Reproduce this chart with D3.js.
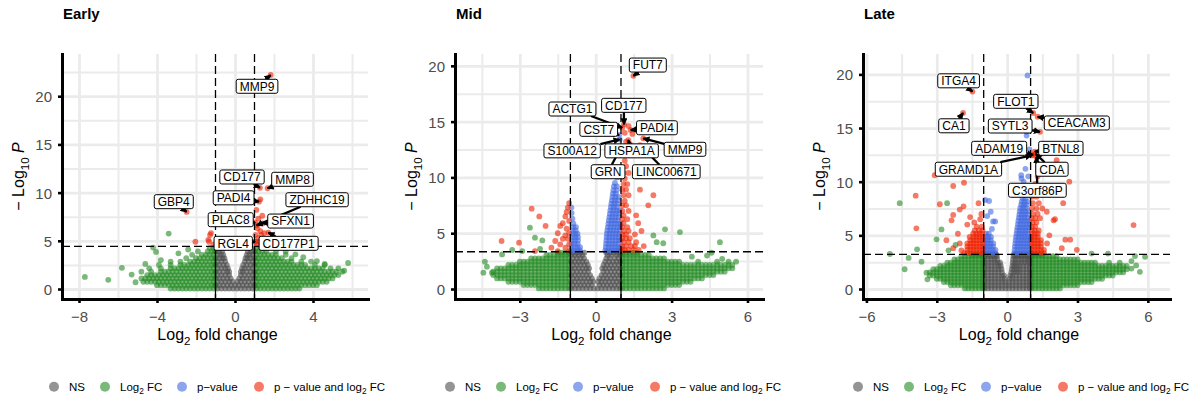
<!DOCTYPE html>
<html>
<head>
<meta charset="utf-8">
<script src="https://cdn.jsdelivr.net/npm/d3@7"></script>
<style>
  body { margin: 0; background: #fff; }
  svg text { font-family: "Liberation Sans", Arial, Helvetica, sans-serif; }
</style>
</head>
<body>
<svg id="chart" width="1196" height="399"></svg>
<script>
// ── data ───────────────────────────────────────────────────────────────────
// point rows: first value is -log10 P, the rest are log2 FC values at that height

// Early
const earlyNS = [
  [0.05, -0.9,-0.7,-0.5,-0.3,-0.1,0.1,0.3,0.5,0.7,0.9],
  [0.4, -0.98,-0.8,-0.6,-0.4,-0.2,0,0.2,0.4,0.6,0.8,0.98],
  [0.75, -0.9,-0.7,-0.5,-0.3,-0.12,0.12,0.3,0.5,0.7,0.9],
  [1.1, -0.98,-0.8,-0.6,-0.4,-0.22,0.22,0.4,0.6,0.8,0.98],
  [1.45, -0.9,-0.7,-0.5,-0.3,0.3,0.5,0.7,0.9],
  [1.8, -0.98,-0.8,-0.6,-0.4,-0.3,0.3,0.4,0.6,0.8,0.98],
  [2.15, -0.9,-0.7,-0.5,-0.36,0.36,0.5,0.7,0.9],
  [2.5, -0.98,-0.8,-0.6,-0.42,0.42,0.6,0.8,0.98],
  [2.85, -0.9,-0.7,-0.5,0.5,0.7,0.9],
  [3.2, -0.98,-0.8,-0.64,-0.54,0.54,0.64,0.8,0.98],
  [3.55, -0.9,-0.74,-0.6,0.6,0.74,0.9],
  [3.9, -0.98,-0.82,-0.66,0.66,0.82,0.98],
  [4.25, -0.9,-0.72,0.72,0.9]
];
const earlyFC = [
  [0.05, -3.3,-3.1,-2.9,-2.7,-2.5,-2.3,-2.1,-1.9,-1.7,-1.5,-1.3,-1.1, 1.1,1.3,1.5,1.7,1.9,2.1,2.3,2.5,2.7,2.9,3.1,3.3],
  [0.4, -4,-3.8,-3.6,-3.4,-3.2,-3,-2.8,-2.6,-2.4,-2.2,-2,-1.8,-1.6,-1.4,-1.2,-1.05, 1.05,1.2,1.4,1.6,1.8,2,2.2,2.4,2.6,2.8,3,3.2,3.4,3.6,3.8,4,4.2],
  [0.75, -4.7,-4.5,-4.3,-4.1,-3.9,-3.7,-3.5,-3.3,-3.1,-2.9,-2.7,-2.5,-2.3,-2.1,-1.9,-1.7,-1.5,-1.3,-1.1, 1.1,1.3,1.5,1.7,1.9,2.1,2.3,2.5,2.7,2.9,3.1,3.3,3.5,3.7,3.9,4.1,4.3,4.5,4.7],
  [1.1, -4.8,-4.6,-4.4,-4.2,-4,-3.8,-3.6,-3.4,-3.2,-3,-2.8,-2.6,-2.4,-2.2,-2,-1.8,-1.6,-1.4,-1.2,-1.05, 1.05,1.2,1.4,1.6,1.8,2,2.2,2.4,2.6,2.8,3,3.2,3.4,3.6,3.8,4,4.2,4.4,4.6,4.8,5],
  [1.45, -4.5,-4.3,-4.1,-3.9,-3.7,-3.5,-3.3,-3.1,-2.9,-2.7,-2.5,-2.3,-2.1,-1.9,-1.7,-1.5,-1.3,-1.1, 1.1,1.3,1.5,1.7,1.9,2.1,2.3,2.5,2.7,2.9,3.1,3.3,3.5,3.7,3.9,4.1,4.3,4.5,4.7,4.9,5.1,5.3],
  [1.8, -4.8,-4.3,-3.8,-3.6,-3.4,-3.2,-3,-2.8,-2.6,-2.4,-2.2,-2,-1.8,-1.6,-1.4,-1.2,-1.05, 1.05,1.2,1.4,1.6,1.8,2,2.2,2.4,2.6,2.8,3,3.2,3.4,3.6,3.8,4,4.2,4.4,4.6,4.8,5,5.2,5.5],
  [2.15, -4.4,-3.8,-3.3,-3.1,-2.9,-2.7,-2.5,-2.3,-2.1,-1.9,-1.7,-1.5,-1.3,-1.1, 1.1,1.3,1.5,1.7,1.9,2.1,2.3,2.5,2.7,2.9,3.1,3.3,3.5,3.7,3.9,4.1,4.3,4.5,4.9,5.3],
  [2.5, -3.9,-3.3,-2.8,-2.6,-2.4,-2.2,-2,-1.8,-1.6,-1.4,-1.2,-1.05, 1.05,1.2,1.4,1.6,1.8,2,2.2,2.4,2.6,2.8,3,3.2,3.4,3.6,4.1,4.6],
  [2.85, -3.3,-2.8,-2.3,-2.1,-1.9,-1.7,-1.5,-1.3,-1.1, 1.1,1.3,1.5,1.7,1.9,2.1,2.3,2.5,2.7,2.9,3.4,3.9],
  [3.2, -2.5,-2,-1.8,-1.6,-1.4,-1.2,-1.05, 1.05,1.2,1.4,1.6,1.8,2,2.2,2.4,2.9],
  [3.55, -2.2,-1.7,-1.5,-1.3,-1.1, 1.1,1.3,1.5,1.7,1.9,2.1,2.6],
  [3.9, -1.9,-1.4,-1.2,-1.05, 1.05,1.2,1.4,1.6,2.1],
  [4.25, -1.3,-1.1, 1.1,1.3,1.5],
  [1.25, -7.7], [0.95, -6.5], [2.2, -5.8], [1.5, -5.3], [0.7, -5.1], [4.3, -4.2], [3.85, -4.05],
  [5.75, -3.4], [3.0, -3.8], [3.7, -2.9], [4.1, -2.4], [2.6, -4.6], [2.7, 5.8], [1.9, 5.6],
  [2.6, 4.6], [3.3, 3.5], [3.9, 2.6], [3.6, 3.1], [2.9, 4.2]
];
const earlyFCP = [
  [4.6, -1.1, 1.1, 1.4], [4.9, -1.33, -2.03, 1.05, 1.25], [5.1, -1.37, 1.6], [5.3, 1.2],
  [5.6, -1.28, 1.05, 1.35], [5.8, -1.23, 1.5], [6.0, 1.3], [6.3, 1.15], [7.3, 1.2],
  [7.6, 1.4], [8.2, 1.1], [9.3, 1.3]
];
const earlyGenes  = ['MMP9', 'CD177', 'MMP8', 'PADI4', 'ZDHHC19', 'GBP4', 'PLAC8', 'SFXN1', 'RGL4', 'CD177P1'];
const earlyGeneFC = [1.83, 1.28, 1.67, 1.23, 1.11, -2.48, 1.03, 1.42, 1.03, 1.71];
const earlyGeneP  = [22.2, 10.5, 10.45, 9.06, 6.6, 8.0, 6.9, 6.8, 4.9, 5.85];

// Mid
const midNS = [
  [0.05, -0.97,-0.82,-0.67,-0.52,-0.37,-0.22,-0.07,0.08,0.23,0.38,0.53,0.68,0.83,0.97],
  [0.35, -0.9,-0.75,-0.6,-0.45,-0.3,-0.15,0.15,0.3,0.45,0.6,0.75,0.9],
  [0.65, -0.97,-0.82,-0.67,-0.52,-0.37,-0.22,-0.1,0.1,0.23,0.38,0.53,0.68,0.83,0.97],
  [0.95, -0.9,-0.75,-0.6,-0.45,-0.3,-0.15,0.15,0.3,0.45,0.6,0.75,0.9],
  [1.25, -0.97,-0.82,-0.67,-0.52,-0.37,-0.22,0.23,0.38,0.53,0.68,0.83,0.97],
  [1.55, -0.9,-0.75,-0.6,-0.45,-0.3,0.3,0.45,0.6,0.75,0.9],
  [1.85, -0.97,-0.82,-0.67,-0.52,-0.37,-0.26,0.26,0.38,0.53,0.68,0.83,0.97],
  [2.15, -0.9,-0.75,-0.6,-0.45,-0.31,0.31,0.45,0.6,0.75,0.9],
  [2.45, -0.97,-0.82,-0.67,-0.52,-0.37,0.37,0.53,0.68,0.83,0.97],
  [2.75, -0.9,-0.75,-0.6,-0.46,0.42,0.56,0.75,0.9],
  [3.05, -0.97,-0.82,-0.67,-0.52,0.47,0.62,0.83,0.97],
  [3.25, -0.9,-0.75,-0.6,-0.45,0.42,0.55,0.7,0.85,0.97]
];
const midFC = [
  [0.05, -1.05,-1.2,-1.35,-1.5,-1.65,-1.8,-1.95,-2.1,-2.25, 1.05,1.2,1.35,1.5,1.65,1.8,1.95,2.1,2.25,2.4,2.55,2.7],
  [0.35, -1.05,-1.2,-1.35,-1.5,-1.65,-1.8,-1.95,-2.1,-2.25,-2.4,-2.55,-2.7,-2.85, 1.05,1.2,1.35,1.5,1.65,1.8,1.95,2.1,2.25,2.4,2.55,2.7,2.85,3,3.15,3.3],
  [0.65, -1.05,-1.2,-1.35,-1.5,-1.65,-1.8,-1.95,-2.1,-2.25,-2.4,-2.55,-2.7,-2.85,-3,-3.15,-3.3,-3.45, 1.05,1.2,1.35,1.5,1.65,1.8,1.95,2.1,2.25,2.4,2.55,2.7,2.85,3,3.15,3.3,3.45,3.6,3.75],
  [0.95, -1.05,-1.2,-1.35,-1.5,-1.65,-1.8,-1.95,-2.1,-2.25,-2.4,-2.55,-2.7,-2.85,-3,-3.15,-3.3,-3.45,-3.6,-3.75,-3.9, 1.05,1.2,1.35,1.5,1.65,1.8,1.95,2.1,2.25,2.4,2.55,2.7,2.85,3,3.15,3.3,3.45,3.6,3.75,3.9,4.05,4.2],
  [1.25, -1.05,-1.2,-1.35,-1.5,-1.65,-1.8,-1.95,-2.1,-2.25,-2.4,-2.55,-2.7,-2.85,-3,-3.15,-3.3,-3.45,-3.6,-3.75,-3.9,-4.05, 1.05,1.2,1.35,1.5,1.65,1.8,1.95,2.1,2.25,2.4,2.55,2.7,2.85,3,3.15,3.3,3.45,3.6,3.75,3.9,4.05,4.2,4.35,4.5,4.65],
  [1.55, -1.05,-1.2,-1.35,-1.5,-1.65,-1.8,-1.95,-2.1,-2.25,-2.4,-2.55,-2.7,-2.85,-3,-3.15,-3.3,-3.45,-3.6,-3.75,-3.9,-4.05, 1.05,1.2,1.35,1.5,1.65,1.8,1.95,2.1,2.25,2.4,2.55,2.7,2.85,3,3.15,3.3,3.45,3.6,3.75,3.9,4.05,4.2,4.35,4.5,4.65,4.8,4.95,5.1],
  [1.85, -1.05,-1.2,-1.35,-1.5,-1.65,-1.8,-1.95,-2.1,-2.25,-2.4,-2.55,-2.7,-2.85,-3,-3.15,-3.3,-3.45,-3.6,-3.75,-3.9, 1.05,1.2,1.35,1.5,1.65,1.8,1.95,2.1,2.25,2.4,2.55,2.7,2.85,3,3.15,3.3,3.45,3.6,3.75,3.9,4.05,4.2,4.35,4.5,4.65,4.8,4.95,5.1,5.25,5.4],
  [2.15, -1.05,-1.2,-1.35,-1.5,-1.65,-1.8,-1.95,-2.1,-2.25,-2.4,-2.55,-2.7,-2.85,-3,-3.15,-3.3,-3.45, 1.05,1.2,1.35,1.5,1.65,1.8,1.95,2.1,2.25,2.4,2.55,2.7,2.85,3,3.15,3.3,3.45,3.6,3.75,3.9,4.05,4.2,4.35,4.5,4.65,4.8,4.95,5.1,5.25,5.4],
  [2.45, -1.05,-1.2,-1.35,-1.5,-1.65,-1.8,-1.95,-2.1,-2.25,-2.4,-2.55,-2.7,-2.85,-3, 1.05,1.2,1.35,1.5,1.65,1.8,1.95,2.1,2.25,2.4,2.55,2.7,2.85,3,3.15,3.3,4.05,4.8,5.25,5.55],
  [2.75, -1.05,-1.2,-1.35,-1.5,-1.65,-1.8,-1.95,-2.1,-2.25,-2.4,-2.55, 1.05,1.2,1.35,1.5,1.65,1.8,1.95,2.1,2.25,2.4,2.55,2.7],
  [3.05, -1.05,-1.2,-1.35,-1.5,-1.65,-1.8,-1.95, 1.05,1.2,1.35,1.5,1.65,1.8,1.95,2.1],
  [3.25, -1.05,-1.2,-1.35,-1.5, 1.05,1.2,1.35,1.5,1.65],
  [5.5, -2.6], [4.6, -2.4], [4.35, -2.11], [2.45, -4.38], [1.46, -4.44], [1.46, -4.1], [5.35, 2.74],
  [5.1, 3.33], [4.8, 2.28], [4.2, 2.41], [4.1, 2.67], [4.2, 4.91], [3.25, 4.58], [3.5, -3.3],
  [3.4, -2.9], [3.1, -3.7], [2.9, 3.8], [3.0, 4.4], [2.7, 5.0], [2.0, -4.3], [3.6, -2.2]
];
const midP = [
  [3.45, -0.97,-0.85,-0.73,-0.62, 0.38,0.5,0.62,0.74,0.86,0.97],
  [3.75, -0.96,-0.84,-0.72,-0.62, 0.4,0.52,0.64,0.76,0.88,0.98],
  [4.05, -0.95,-0.83,-0.71, 0.41,0.53,0.65,0.77,0.89],
  [4.35, -0.94,-0.82,-0.7, 0.42,0.54,0.66,0.78,0.9,0.98],
  [4.65, -0.93,-0.81,-0.7, 0.43,0.55,0.67,0.79,0.91],
  [4.95, -0.92,-0.8,-0.72, 0.44,0.56,0.68,0.8,0.92],
  [5.25, -0.91,-0.79, 0.46,0.58,0.7,0.82,0.94],
  [5.55, -0.9,-0.78, 0.48,0.6,0.72,0.84,0.96],
  [5.85, -0.88, 0.5,0.62,0.74,0.86,0.97],
  [6.15, 0.52,0.64,0.76,0.88], [6.3, -0.92],
  [6.45, 0.54,0.66,0.78,0.9], [6.8, -0.95],
  [6.75, 0.56,0.68,0.8,0.92], [7.3, -0.96],
  [7.05, 0.58,0.7,0.82,0.94], [7.35, 0.6,0.72,0.84], [7.65, 0.62,0.74,0.86],
  [7.95, 0.64,0.76,0.88], [8.25, 0.66,0.78,0.9], [8.55, 0.68,0.8], [8.85, 0.7,0.82],
  [9.2, 0.72,0.84], [9.5, 0.76], [10.0, 0.85]
];
const midFCP = [
  [3.5, 1.05,1.15,1.3,1.5,1.7], [3.85, 1.05,1.2,1.4,1.55,1.9], [4.2, 1.1,1.3,1.6], [4.55, 1.05,1.2,1.35],
  [4.9, 1.05,1.2,1.55], [5.2, 1.1,1.3,1.81], [5.55, 1.05,1.25], [5.9, 1.1,1.68], [6.25, 1.05,1.25],
  [6.6, 1.1,1.6], [7.0, 1.05,1.3], [7.5, 1.05,1.2,2.08], [7.9, 1.15], [8.4, 1.1,1.3,2.28],
  [8.9, 1.05,1.2,1.75], [9.4, 1.1,1.25], [9.9, 1.15], [10.4, 1.1,1.3], [11.0, 1.2], [11.5, 1.15], [12.0, 1.25],
  [3.4, -1.05,-1.5,-2.4], [3.7, -1.2,-1.75], [4.0, -1.05,-1.4], [4.15, -3.03], [4.3, -1.6,-3.72],
  [4.5, -1.1,-1.3], [4.8, -1.2], [5.0, -1.05,-1.5], [5.4, -1.15], [5.65, -1.4,-1.98], [5.9, -1.3],
  [6.1, -1.05], [6.5, -1.2,-2.23], [6.9, -1.15], [7.2, -2.53], [7.3, -1.1], [7.7, -1.05],
  [13.0, 1.35], [13.2, 1.2], [13.9, 1.45], [14.0, 1.15], [14.6, 1.3]
];
const midGenes  = ['FUT7', 'ACTG1', 'CD177', 'CST7', 'PADI4', 'S100A12', 'HSPA1A', 'MMP9', 'GRN', 'LINC00671'];
const midGeneFC = [1.49, 1.05, 1.12, 0.93, 1.38, 0.95, 1.29, 1.88, 0.98, 1.75];
const midGeneP  = [19.1, 14.45, 14.75, 13.8, 14.25, 13.4, 13.35, 13.5, 12.6, 12.9];

// Late
const lateNS = [
  [0.05, -0.97,-0.82,-0.67,-0.52,-0.37,-0.22,-0.07,0.08,0.23,0.38,0.53,0.68,0.83,0.97],
  [0.35, -0.97,-0.82,-0.67,-0.52,-0.37,-0.22,-0.07,0.08,0.23,0.38,0.53,0.68,0.83,0.97],
  [0.65, -0.97,-0.82,-0.67,-0.52,-0.37,-0.22,-0.08,0.08,0.23,0.38,0.53,0.68,0.83,0.97],
  [0.95, -0.97,-0.82,-0.67,-0.52,-0.37,-0.22,-0.1,0.1,0.23,0.38,0.53,0.68,0.83,0.97],
  [1.25, -0.97,-0.82,-0.67,-0.52,-0.37,-0.22,-0.13,0.13,0.23,0.38,0.53,0.68,0.83,0.97],
  [1.55, -0.97,-0.82,-0.67,-0.52,-0.37,-0.22,0.18,0.3,0.42,0.53,0.68,0.83,0.97],
  [1.85, -0.97,-0.82,-0.67,-0.52,-0.37,-0.24,0.2,0.3,0.42,0.53,0.68,0.83,0.97],
  [2.15, -0.97,-0.82,-0.67,-0.52,-0.37,-0.27,0.22,0.3,0.42,0.53,0.68,0.83,0.97],
  [2.45, -0.97,-0.82,-0.67,-0.52,-0.4,-0.3,0.24,0.35,0.47,0.6,0.73,0.86,0.97],
  [2.75, -0.97,-0.82,-0.67,-0.54,-0.42,0.25,0.36,0.5,0.62,0.75,0.87,0.97],
  [3.05, -0.97,-0.82,-0.68,-0.55,-0.44,0.27,0.38,0.5,0.63,0.76,0.88,0.97],
  [3.2, -0.9,-0.75,-0.6,-0.46,0.3,0.43,0.57,0.7,0.84,0.97]
];
const lateFC = [
  [0.05, -1.8,-1.65,-1.5,-1.35,-1.2,-1.05, 1.05,1.2,1.35,1.5,1.65,1.8,1.95,2.1,2.25],
  [0.35, -2.4,-2.25,-2.1,-1.95,-1.8,-1.65,-1.5,-1.35,-1.2,-1.05, 1.05,1.2,1.35,1.5,1.65,1.8,1.95,2.1,2.25,2.4,2.55,2.7,2.85,3],
  [0.65, -2.7,-2.55,-2.4,-2.25,-2.1,-1.95,-1.8,-1.65,-1.5,-1.35,-1.2,-1.05, 1.05,1.2,1.35,1.5,1.65,1.8,1.95,2.1,2.25,2.4,2.55,2.7,2.85,3,3.15,3.3,3.45,3.6],
  [0.95, -3,-2.85,-2.7,-2.55,-2.4,-2.25,-2.1,-1.95,-1.8,-1.65,-1.5,-1.35,-1.2,-1.05, 1.05,1.2,1.35,1.5,1.65,1.8,1.95,2.1,2.25,2.4,2.55,2.7,2.85,3,3.15,3.3,3.45,3.6,3.75,3.9,4.05],
  [1.25, -3.3,-3.15,-3,-2.85,-2.7,-2.55,-2.4,-2.25,-2.1,-1.95,-1.8,-1.65,-1.5,-1.35,-1.2,-1.05, 1.05,1.2,1.35,1.5,1.65,1.8,1.95,2.1,2.25,2.4,2.55,2.7,2.85,3,3.15,3.3,3.45,3.6,3.75,3.9,4.05,4.2,4.35,4.5],
  [1.55, -3.3,-3.15,-3,-2.85,-2.7,-2.55,-2.4,-2.25,-2.1,-1.95,-1.8,-1.65,-1.5,-1.35,-1.2,-1.05, 1.05,1.2,1.35,1.5,1.65,1.8,1.95,2.1,2.25,2.4,2.55,2.7,2.85,3,3.15,3.3,3.45,3.6,3.75,3.9,4.05,4.2,4.35,4.5,4.65,4.8,4.95],
  [1.85, -3.15,-3,-2.85,-2.7,-2.55,-2.4,-2.25,-2.1,-1.95,-1.8,-1.65,-1.5,-1.35,-1.2,-1.05, 1.05,1.2,1.35,1.5,1.65,1.8,1.95,2.1,2.25,2.4,2.55,2.7,2.85,3,3.15,3.3,3.45,3.6,3.75,3.9,4.05,4.2,4.35,4.5,4.65,4.8,4.95,5.1],
  [2.15, -2.85,-2.7,-2.55,-2.4,-2.25,-2.1,-1.95,-1.8,-1.65,-1.5,-1.35,-1.2,-1.05, 1.05,1.2,1.35,1.5,1.65,1.8,1.95,2.1,2.25,2.4,2.55,2.7,2.85,3,3.15,3.3,3.45,3.6,3.75,3.9,4.05,4.2,4.35,4.5,4.65,4.8,4.95,5.1],
  [2.45, -2.55,-2.4,-2.25,-2.1,-1.95,-1.8,-1.65,-1.5,-1.35,-1.2,-1.05, 1.05,1.2,1.35,1.5,1.65,1.8,1.95,2.1,2.25,2.4,2.55,2.7,2.85,3,3.15,3.3,3.45,3.6,3.75,4.35,4.8],
  [2.75, -2.25,-2.1,-1.95,-1.8,-1.65,-1.5,-1.35,-1.2,-1.05, 1.05,1.2,1.35,1.5,1.65,1.8,1.95,2.1,2.25,2.4,2.55,2.7,2.85,3],
  [3.05, -1.95,-1.8,-1.65,-1.5,-1.35,-1.2,-1.05, 1.05,1.2,1.35,1.5,1.65,1.8,1.95,2.1],
  [3.2, -1.5,-1.35,-1.2,-1.05, 1.05,1.2,1.35,1.5],
  [8.0, -4.58], [8.0, -2.56], [5.55, -2.8], [3.26, -5.0], [1.84, -4.37], [3.7, -3.84], [2.55, -3.65],
  [1.52, -3.44], [4.63, -3.01], [3.0, 5.88], [1.6, 5.66], [3.07, 5.45], [4.1, -2.2], [3.6, -2.5],
  [3.3, 4.3], [3.3, 3.6], [2.6, 5.3], [2.2, 5.5], [1.9, 5.3], [0.9, -3.4], [2.9, -4.2]
];
const lateP = [
  [3.35, -0.98,-0.86,-0.74,-0.62,-0.5, 0.3,0.42,0.54,0.66,0.78,0.9,0.98],
  [3.65, -0.97,-0.85,-0.73,-0.61,-0.5, 0.32,0.44,0.56,0.68,0.8,0.92],
  [3.95, -0.96,-0.84,-0.72,-0.6, 0.33,0.45,0.57,0.69,0.81,0.93],
  [4.25, -0.95,-0.83,-0.71,-0.59, 0.35,0.47,0.59,0.71,0.83,0.95],
  [4.55, -0.94,-0.82,-0.7, 0.36,0.48,0.6,0.72,0.84,0.96],
  [4.85, -0.93,-0.81,-0.69, 0.38,0.5,0.62,0.74,0.86,0.98],
  [5.15, -0.9,-0.78, 0.4,0.52,0.64,0.76,0.88],
  [5.45, 0.42,0.54,0.66,0.78,0.9], [5.6, -0.65],
  [5.75, 0.44,0.56,0.68,0.8,0.92], [6.05, 0.46,0.58,0.7,0.82,0.94],
  [6.3, -0.6,-0.51], [6.35, 0.48,0.6,0.72,0.84,0.96], [6.65, 0.5,0.62,0.74,0.86], [6.8, -0.85],
  [6.95, 0.52,0.64,0.76,0.88], [7.2, -0.7], [7.25, 0.54,0.66,0.78,0.9], [7.55, 0.56,0.68,0.8],
  [7.85, 0.6,0.72,0.84], [8.15, 0.62,0.74,0.86], [8.2, -0.77], [8.3, -0.94], [8.45, 0.66,0.78],
  [8.8, 0.7,0.82], [9.2, 0.74], [10.0, 0.7], [10.3, 0.61], [10.5, 0.9], [10.6, 0.6],
  [11.2, 0.78], [13.0, 0.95], [14.3, 0.83], [14.65, 0.83], [19.9, 0.87]
];
const lateFCP = [
  [3.35, -1.05,-1.18,-1.31,-1.44,-1.57,-1.7,-1.83, 1.05,1.18,1.31,1.44,1.57],
  [3.65, -1.05,-1.18,-1.31,-1.44,-1.57,-1.7, 1.05,1.18,1.31,1.44,1.57, 2.97],
  [3.95, -1.05,-1.18,-1.31,-1.44,-1.57,-1.7, 1.05,1.18,1.31,1.44],
  [4.25, -1.05,-1.18,-1.31,-1.44,-1.57,-1.7, 1.05,1.18,1.31,1.44, -2.02, 1.7],
  [4.55, -1.05,-1.18,-1.31,-1.44,-1.57, 1.05,1.18,1.31,1.44, -2.59],
  [4.85, -1.05,-1.18,-1.31,-1.44,-1.6, 1.05,1.18,1.31],
  [5.15, -1.05,-1.18,-1.31,-1.45, 1.05,1.18,1.31, -2.1],
  [5.45, -1.05,-1.2,-1.38, 1.05,1.18,1.35],
  [5.8, -1.08,-1.3, 1.05,1.2],
  [3.6, -1.95], [3.8, -2.3, 2.33], [4.6, 2.48, 2.69], [5.0, 1.8], [5.65, -3.87], [6.0, -1.7],
  [6.2, -1.4, 1.08, 1.25], [6.4, -2.37, 1.98], [6.5, -1.15, 2.04], [6.6, 1.05, 1.2, 1.4], [6.7, -1.58],
  [6.9, -2.3], [7.0, -1.1, 1.1, 1.3], [7.2, 1.69], [7.4, -2.02], [7.5, 1.05, 1.25, 1.5], [7.7, -1.86],
  [7.9, -2.87], [8.0, -1.22, 1.1, 1.35, 2.39], [8.6, 1.05, 1.25], [8.7, -3.9], [9.07, 1.82], [9.5, 1.6],
  [9.6, -2.3], [9.8, 1.2], [9.9, -1.84], [10.0, 2.65], [10.5, 1.3], [10.6, -3.09], [11.2, 1.5],
  [12.0, 2.11], [5.96, 5.39]
];
const lateGenes  = ['ITGA4', 'CA1', 'FLOT1', 'CEACAM3', 'SYTL3', 'ADAM19', 'BTNL8', 'GRAMD1A', 'CDA', 'C3orf86P'];
const lateGeneFC = [-1.48, -1.88, 1.11, 1.3, 1.4, 1.11, 1.18, 1.04, 1.22, 1.25];
const lateGeneP  = [18.4, 16.4, 16.4, 16.05, 14.65, 12.5, 12.8, 12.45, 12.6, 12.3];

// ── layout ─────────────────────────────────────────────────────────────────
const TOP = 54, BOTTOM = 299;
const COL = { ns: '#4d4d4d', fc: '#228b22', pv: '#4169e1', both: '#ee2200' };
const panels = [
  { title: 'Early', left: 62, right: 368, xDomain: [-8.872, 6.821], yDomain: [-1.037, 24.38],
    xTicks: [-8, -4, 0, 4], yTicks: [0, 5, 10, 15, 20], pCut: 4.43, legendX: 54,
    ns: earlyNS, fc: earlyFC, pv: [], both: earlyFCP,
    genes: earlyGenes, geneFC: earlyGeneFC, geneP: earlyGeneP,
    labelAt: { MMP9: [1.13, 21.03], CD177: [0.36, 11.62], MMP8: [2.95, 11.38], PADI4: [-0.07, 9.46],
      ZDHHC19: [4.21, 9.26], GBP4: [-3.14, 9.06], PLAC8: [-0.22, 7.19], SFXN1: [2.85, 7.05],
      RGL4: [-0.09, 4.74], CD177P1: [2.75, 4.74] } },
  { title: 'Mid', left: 455, right: 763, xDomain: [-5.561, 6.613], yDomain: [-0.896, 21.06],
    xTicks: [-3, 0, 3, 6], yTicks: [0, 5, 10, 15, 20], pCut: 3.34, legendX: 450,
    ns: midNS, fc: midFC, pv: midP, both: midFCP,
    genes: midGenes, geneFC: midGeneFC, geneP: midGeneP,
    labelAt: { FUT7: [2.06, 20.07], ACTG1: [-0.92, 16.13], CD177: [1.11, 16.46], CST7: [0.12, 14.31],
      PADI4: [2.42, 14.45], S100A12: [-0.93, 12.38], HSPA1A: [1.42, 12.38], MMP9: [3.53, 12.52],
      GRN: [0.49, 10.51], LINC00671: [2.79, 10.51] } },
  { title: 'Late', left: 863, right: 1170, xDomain: [-6.146, 6.944], yDomain: [-0.932, 21.9],
    xTicks: [-6, -3, 0, 3, 6], yTicks: [0, 5, 10, 15, 20], pCut: 3.23, legendX: 858,
    ns: lateNS, fc: lateFC, pv: lateP, both: lateFCP,
    genes: lateGenes, geneFC: lateGeneFC, geneP: lateGeneP,
    labelAt: { ITGA4: [-2.07, 19.4], CA1: [-2.27, 15.21], FLOT1: [0.37, 17.49], CEACAM3: [2.97, 15.47],
      SYTL3: [0.13, 15.19], ADAM19: [-0.34, 13.11], BTNL8: [2.29, 13.11], GRAMD1A: [-1.65, 11.16],
      CDA: [1.91, 11.16], C3orf86P: [1.29, 9.2] } }
];

const svg = d3.select('#chart');
svg.append('defs').append('marker')
  .attr('id', 'arr').attr('viewBox', '0 0 8 8').attr('refX', 7).attr('refY', 4)
  .attr('markerWidth', 7).attr('markerHeight', 7).attr('markerUnits', 'userSpaceOnUse')
  .attr('orient', 'auto')
  .append('path').attr('d', 'M0,0 L8,4 L0,8 z').attr('fill', '#000');

const toPoints = rows => rows.flatMap(([p, ...fcs]) => fcs.map(fc => ({ fc, p })));
const minorOf = (ticks, dom) => {
  const s = ticks[1] - ticks[0];
  return [ticks[0] - s / 2, ...ticks.map(t => t + s / 2)].filter(v => v > dom[0] && v < dom[1]);
};

// rich text: parts [text, 'sub'|'back'|'it'|undefined]
function rich(sel, parts, size) {
  parts.forEach(([t, kind]) => {
    const ts = sel.append('tspan').text(t);
    if (kind === 'sub') ts.attr('font-size', size * 0.72).attr('dy', size * 0.3);
    if (kind === 'back') ts.attr('dy', -size * 0.3);
    if (kind === 'it') ts.attr('font-style', 'italic');
  });
}

function drawPanel(c) {
  const x = d3.scaleLinear().domain(c.xDomain).range([c.left, c.right]);
  const y = d3.scaleLinear().domain(c.yDomain).range([BOTTOM, TOP]);
  const w = c.right - c.left, h = BOTTOM - TOP;
  const g = svg.append('g');

  // grid
  const grid = (axis, tr, vals, sw) => {
    g.append('g').attr('transform', tr).call(axis.tickValues(vals).tickFormat(''))
      .call(a => a.select('.domain').remove())
      .selectAll('line').attr('stroke', '#ebebeb').attr('stroke-width', sw);
  };
  grid(d3.axisBottom(x).tickSize(-h), `translate(0,${BOTTOM})`, minorOf(c.xTicks, c.xDomain), 2);
  grid(d3.axisLeft(y).tickSize(-w), `translate(${c.left},0)`, minorOf(c.yTicks, c.yDomain), 2);
  grid(d3.axisBottom(x).tickSize(-h), `translate(0,${BOTTOM})`, c.xTicks, 2.8);
  grid(d3.axisLeft(y).tickSize(-w), `translate(${c.left},0)`, c.yTicks, 2.8);

  // points
  ['ns', 'fc', 'pv', 'both'].forEach(k => {
    g.append('g').selectAll('circle').data(toPoints(c[k])).join('circle')
      .attr('cx', d => x(d.fc)).attr('cy', d => y(d.p)).attr('r', 2.9)
      .attr('fill', COL[k]).attr('fill-opacity', 0.6);
  });
  const genePts = c.genes.map((name, i) => ({ name, fc: c.geneFC[i], p: c.geneP[i] }));
  g.append('g').selectAll('circle').data(genePts).join('circle')
    .attr('cx', d => x(d.fc)).attr('cy', d => y(d.p)).attr('r', 2.9)
    .attr('fill', d => Math.abs(d.fc) > 1 ? COL.both : COL.pv).attr('fill-opacity', 0.6);

  // cut-off lines
  const cut = g.append('g').attr('stroke', '#000').attr('stroke-width', 1.3);
  [-1, 1].forEach(v => {
    cut.append('line').attr('x1', x(v)).attr('x2', x(v)).attr('y1', TOP).attr('y2', BOTTOM)
      .attr('stroke-dasharray', '8,4');
    cut.append('line').attr('x1', x(v)).attr('x2', x(v)).attr('y1', y(c.pCut)).attr('y2', BOTTOM);
  });
  cut.append('line').attr('x1', c.left).attr('x2', c.right).attr('y1', y(c.pCut)).attr('y2', y(c.pCut))
    .attr('stroke-dasharray', '8,4');

  // axes
  const styleAxis = a => {
    a.attr('font-size', 15);
    a.select('.domain').attr('stroke', '#000').attr('stroke-width', 3).attr('stroke-linecap', 'square');
    a.selectAll('.tick line').attr('stroke', '#000').attr('stroke-width', 2.6);
    a.selectAll('.tick text').attr('fill', '#4d4d4d');
  };
  g.append('g').attr('transform', `translate(0,${BOTTOM})`)
    .call(d3.axisBottom(x).tickValues(c.xTicks).tickSize(4).tickSizeOuter(0).tickPadding(8))
    .call(styleAxis);
  g.append('g').attr('transform', `translate(${c.left},0)`)
    .call(d3.axisLeft(y).tickValues(c.yTicks).tickSize(4).tickSizeOuter(0).tickPadding(6))
    .call(a => a.selectAll('.tick text').attr('dy', '0.36em'))
    .call(styleAxis);

  // labels with connectors
  const segG = g.append('g'), boxG = g.append('g');
  genePts.forEach(d => {
    const px = x(d.fc), py = y(d.p);
    const [lx, ly] = c.labelAt[d.name];
    const cx = x(lx), cy = y(ly);
    const lab = boxG.append('g');
    const t = lab.append('text').text(d.name).attr('x', cx).attr('y', cy + 4.3)
      .attr('text-anchor', 'middle').attr('font-size', 12).attr('fill', '#000');
    const bw = t.node().getComputedTextLength() + 7, bh = 14;
    lab.insert('rect', 'text').attr('x', cx - bw / 2).attr('y', cy - bh / 2)
      .attr('width', bw).attr('height', bh).attr('rx', 2)
      .attr('fill', '#fff').attr('stroke', '#000').attr('stroke-width', 1);
    const dx = px - cx, dy = py - cy;
    const s = Math.min((bw / 2) / Math.max(Math.abs(dx), 1e-6), (bh / 2) / Math.max(Math.abs(dy), 1e-6));
    if (s < 1) {
      segG.append('line').attr('x1', cx + dx * s).attr('y1', cy + dy * s).attr('x2', px).attr('y2', py)
        .attr('stroke', '#000').attr('stroke-width', 2.3).attr('marker-end', 'url(#arr)');
    }
  });

  // titles
  svg.append('text').attr('x', c.left + 1).attr('y', 18.5).attr('font-size', 15)
    .attr('font-weight', 'bold').text(c.title);
  const xt = svg.append('text').attr('x', (c.left + c.right) / 2 + 2.5).attr('y', 340)
    .attr('text-anchor', 'middle').attr('font-size', 16).attr('fill', '#000');
  rich(xt, [['Log'], ['2', 'sub'], [' fold change', 'back']], 16);
  const yt = svg.append('text')
    .attr('transform', `translate(${c.left - 43.5},${(TOP + BOTTOM) / 2}) rotate(-90)`)
    .attr('y', 5.5).attr('text-anchor', 'middle').attr('font-size', 16).attr('fill', '#000');
  rich(yt, [['\u2212 Log'], ['10', 'sub'], [' ', 'back'], ['P', 'it']], 16);

  // legend
  const ly = 386.7;
  const items = [
    { key: 'ns', dx: 0, parts: [['NS']] },
    { key: 'fc', dx: 51, parts: [['Log'], ['2', 'sub'], [' FC', 'back']] },
    { key: 'pv', dx: 128, parts: [['p\u2212value']] },
    { key: 'both', dx: 205, parts: [['p \u2212 value and log'], ['2', 'sub'], [' FC', 'back']] }
  ];
  const leg = svg.append('g');
  items.forEach(it => {
    leg.append('circle').attr('cx', c.legendX + it.dx).attr('cy', ly).attr('r', 5)
      .attr('fill', COL[it.key]).attr('fill-opacity', 0.6);
    const tx = leg.append('text').attr('x', c.legendX + it.dx + 15).attr('y', ly + 4.2)
      .attr('font-size', 11.5).attr('fill', '#000');
    rich(tx, it.parts, 11.5);
  });
}

panels.forEach(drawPanel);
</script>
</body>
</html>
